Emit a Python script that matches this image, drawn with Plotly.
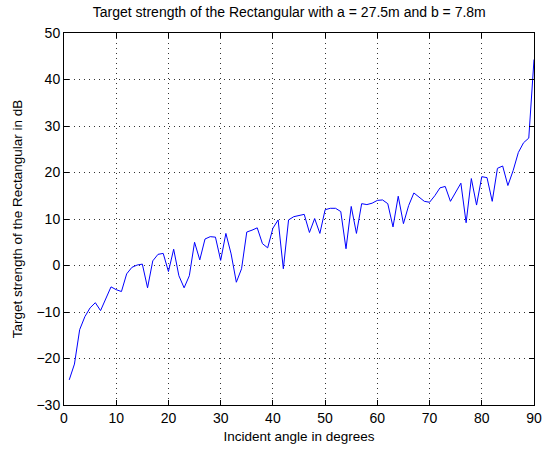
import plotly.graph_objects as go

angles = list(range(1, 91))
ts_db = [-24.6, -21.2, -13.8, -11.0, -9.1, -8.0, -9.7, -7.1, -4.6, -5.2,
         -5.6, -1.8, -0.4, 0.1, 0.3, -4.8, 1.0, 2.4, 2.6, -1.3,
         3.5, -2.2, -4.8, -2.2, 5.0, 1.2, 5.7, 6.2, 6.1, 1.1,
         6.9, 2.5, -3.6, -0.7, 7.2, 7.6, 8.1, 4.7, 3.8, 8.0,
         9.8, -0.7, 9.8, 10.5, 10.7, 11.0, 7.1, 10.1, 6.9, 12.0,
         12.3, 12.3, 11.6, 3.6, 12.7, 6.9, 13.3, 13.1, 13.4, 14.0,
         14.1, 13.3, 8.3, 14.9, 9.0, 12.9, 15.6, 14.7, 13.8, 13.6,
         15.0, 16.7, 17.0, 13.8, 15.6, 17.7, 9.2, 18.7, 13.0, 19.1,
         18.9, 13.8, 20.9, 21.4, 17.2, 20.4, 24.3, 26.4, 27.4, 44.3]

x_ticks = list(range(0, 91, 10))
y_ticks = list(range(-30, 51, 10))

text_font = dict(family="Liberation Sans, Arial, sans-serif", size=13.5, color="black")
title_font = dict(family="Liberation Sans, Arial, sans-serif", size=14, color="black")
tick_font = dict(family="Liberation Sans Narrow, Arial Narrow, Liberation Sans, sans-serif",
                 size=14, color="black")

fig = go.Figure()
fig.add_trace(go.Scatter(x=angles, y=ts_db, mode="lines",
                         line=dict(color="#0000ff", width=1)))

axis_common = dict(
    showgrid=True, gridcolor="#333333", griddash="1px,4px", gridwidth=1,
    showline=True, linecolor="black", linewidth=1, mirror="ticks",
    ticks="inside", ticklen=5, tickcolor="black",
    zeroline=False, tickfont=tick_font,
)

fig.update_layout(
    width=551, height=450,
    margin=dict(l=64, r=9, t=33, b=42),
    paper_bgcolor="white", plot_bgcolor="white",
    showlegend=False,
    font=text_font,
    title=dict(text="Target strength of the Rectangular with a = 27.5m and b = 7.8m",
               x=0.525, xanchor="center", y=0.973, yanchor="middle",
               font=title_font),
    xaxis=dict(range=[0, 90], tickvals=x_ticks,
               title=dict(text="Incident angle in degrees", standoff=6, font=text_font),
               **axis_common),
    yaxis=dict(range=[-30, 50], tickvals=y_ticks,
               title=dict(text="Target strength of the Rectangular in dB", standoff=10, font=text_font),
               **axis_common),
)

fig.write_html("out.html")
